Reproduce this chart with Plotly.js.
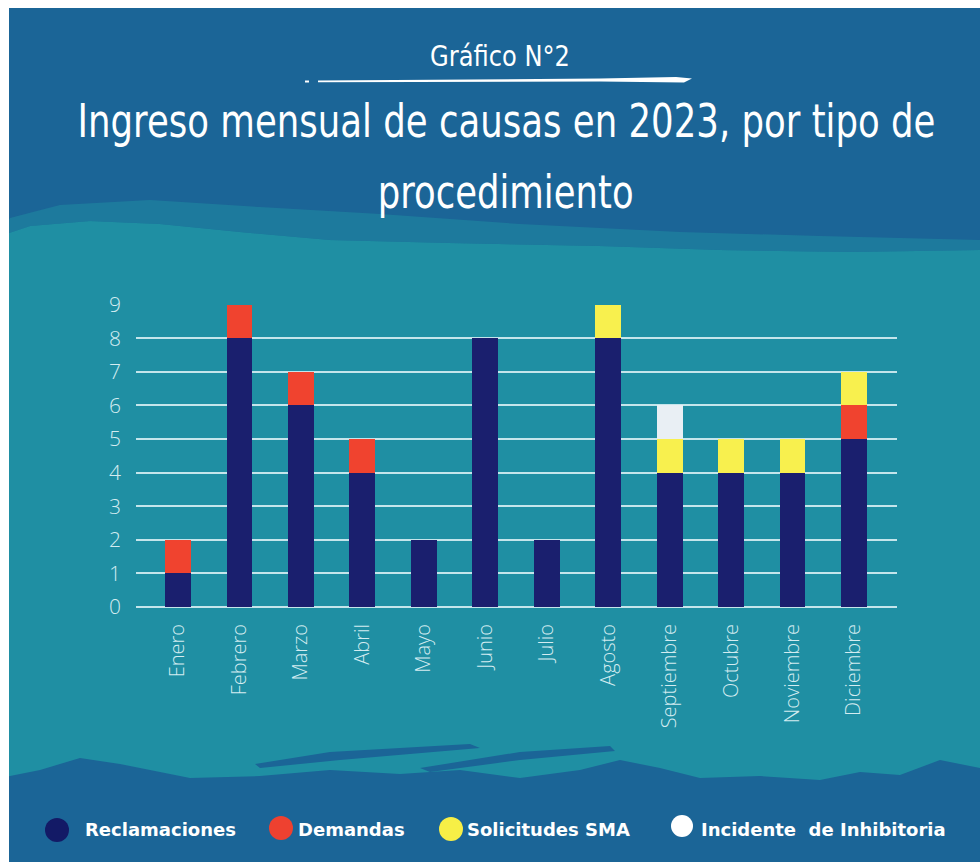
<!DOCTYPE html>
<html>
<head>
<meta charset="utf-8">
<script src="https://cdn.plot.ly/plotly-3.0.1.min.js"></script>
<style>
    html, body { margin: 0; padding: 0; background: #ffffff; }
    #chart { width: 980px; height: 862px; }
</style>
</head>
<body>
<div id="chart"></div>
<script>
// Ingreso mensual de causas 2023 - stacked bars by procedure type

const months = ['Enero', 'Febrero', 'Marzo', 'Abril', 'Mayo', 'Junio',
    'Julio', 'Agosto', 'Septiembre', 'Octubre', 'Noviembre', 'Diciembre'];
const reclamaciones = [1, 8, 6, 4, 2, 8, 2, 8, 4, 4, 4, 5];
const demandas = [1, 1, 1, 1, 0, 0, 0, 0, 0, 0, 0, 1];
const solicitudesSMA = [0, 0, 0, 0, 0, 0, 0, 1, 1, 1, 1, 1];
const incidente = [0, 0, 0, 0, 0, 0, 0, 0, 1, 0, 0, 0];
const seriesNames = ['Reclamaciones', 'Demandas', 'Solicitudes SMA', 'Incidente  de Inhibitoria'];

const COLORS = {
    navy: '#1a1f6e',
    red: '#f0432f',
    yellow: '#f8f04e',
    white: '#e9eff4',
    blue: '#1b6597',
    teal: '#1f8fa3',
    grid: 'rgba(214,238,243,0.9)',
    tick: '#d4ecf1'
};

// page geometry (pixels)
const W = 980, H = 862;
const M = { l: 136, r: 83, t: 304, b: 255 };
const plotW = W - M.l - M.r;
const plotH = H - M.t - M.b;
const px = x => (x - M.l) / plotW;
const py = y => (H - M.b - y) / plotH;

function pathFrom(points) {
    return 'M' + points.map(p => px(p[0]).toFixed(4) + ',' + py(p[1]).toFixed(4)).join(' L') + ' Z';
}

const barWidth = 0.42;
function barTrace(name, values, color) {
    return {
        x: months,
        y: values,
        name: name,
        type: 'bar',
        width: barWidth,
        marker: { color: color, line: { width: 0 } },
        showlegend: false,
        hoverinfo: 'skip'
    };
}

const data = [
    barTrace(seriesNames[0], reclamaciones, COLORS.navy),
    barTrace(seriesNames[1], demandas, COLORS.red),
    barTrace(seriesNames[2], solicitudesSMA, COLORS.yellow),
    barTrace(seriesNames[3], incidente, COLORS.white)
];

// background texture
const tealTop = [[0, 236], [30, 226], [90, 221], [160, 224], [240, 232], [330, 240], [450, 243],
    [600, 246], [720, 250], [850, 252], [980, 250]];
const tealBottom = [[980, 768], [940, 760], [900, 775], [860, 772], [820, 780], [760, 776],
    [700, 778], [660, 768], [620, 760], [580, 770], [520, 778], [460, 770], [400, 774],
    [330, 770], [260, 776], [190, 778], [120, 764], [80, 758], [40, 770], [0, 778]];
const mottled = [[10, 218], [60, 205], [150, 200], [260, 207], [380, 214], [520, 224],
    [680, 232], [820, 236], [980, 240]].concat(tealTop.slice().reverse());

const shapes = [
    { type: 'path', xref: 'paper', yref: 'paper', layer: 'below',
      path: pathFrom(tealTop.concat(tealBottom)), fillcolor: COLORS.teal, line: { width: 0 } },
    { type: 'path', xref: 'paper', yref: 'paper', layer: 'below', opacity: 0.5,
      path: pathFrom(mottled), fillcolor: COLORS.teal, line: { width: 0 } },
    // brush strokes at the bottom edge
    { type: 'path', xref: 'paper', yref: 'paper', layer: 'below',
      path: pathFrom([[255, 764], [330, 752], [470, 744], [480, 748], [340, 760], [260, 768]]),
      fillcolor: COLORS.blue, line: { width: 0 } },
    { type: 'path', xref: 'paper', yref: 'paper', layer: 'below',
      path: pathFrom([[420, 768], [520, 752], [610, 746], [615, 751], [520, 760], [430, 772]]),
      fillcolor: COLORS.blue, line: { width: 0 } },
    // white frame on top and left
    { type: 'rect', xref: 'paper', yref: 'paper', layer: 'above',
      x0: px(0), x1: px(980), y0: py(0), y1: py(8), fillcolor: '#ffffff', line: { width: 0 } },
    { type: 'rect', xref: 'paper', yref: 'paper', layer: 'above',
      x0: px(0), x1: px(9), y0: py(0), y1: py(862), fillcolor: '#ffffff', line: { width: 0 } },
    // brush underline below "Gráfico N°2"
    { type: 'path', xref: 'paper', yref: 'paper', layer: 'above',
      path: pathFrom([[318, 80.5], [600, 78.6], [676, 77], [692, 78.5], [684, 82.5], [600, 81.6], [318, 82.2]]),
      fillcolor: '#ffffff', line: { width: 0 } },
    { type: 'path', xref: 'paper', yref: 'paper', layer: 'above',
      path: pathFrom([[305, 80.5], [309, 80.5], [309, 82.5], [305, 82.5]]),
      fillcolor: '#ffffff', line: { width: 0 } }
];

// custom legend with round markers
const legendItems = [
    { cx: 57, cy: 830, r: 12, color: '#131a66', tx: 83 },
    { cx: 281, cy: 828, r: 12, color: '#ee4130', tx: 296 },
    { cx: 451, cy: 829, r: 12, color: '#f7ef46', tx: 465 },
    { cx: 682, cy: 826, r: 11, color: '#ffffff', tx: 699 }
];
legendItems.forEach(it => {
    shapes.push({ type: 'circle', xref: 'paper', yref: 'paper', layer: 'above',
        x0: px(it.cx - it.r), x1: px(it.cx + it.r), y0: py(it.cy + it.r), y1: py(it.cy - it.r),
        fillcolor: it.color, line: { width: 0 } });
});

// titles: drawn in DejaVu Sans, then squeezed to the condensed width of the original
const titleFont = "'DejaVu Sans', sans-serif";
const titles = [
    { text: 'Gráfico N°2', cx: 500, cy: 56, size: 29, width: 140 },
    { text: 'Ingreso mensual de causas en 2023, por tipo de', cx: 506, cy: 120, size: 47, width: 858 },
    { text: 'procedimiento', cx: 505, cy: 191, size: 47, width: 256 }
];
const annotations = titles.map(t => ({
    text: t.text, xref: 'paper', yref: 'paper', showarrow: false,
    x: px(t.cx), y: py(t.cy), xanchor: 'center', yanchor: 'middle',
    font: { family: titleFont, size: t.size, color: '#ffffff' }
}));

legendItems.forEach((it, i) => {
    annotations.push({
        text: '<b>' + seriesNames[i] + '</b>', xref: 'paper', yref: 'paper', showarrow: false,
        x: px(it.tx), y: py(829), xanchor: 'left', yanchor: 'middle',
        font: { family: "'DejaVu Sans', sans-serif", size: 18, color: '#ffffff' }
    });
});

const layout = {
    width: W,
    height: H,
    margin: M,
    barmode: 'stack',
    showlegend: false,
    paper_bgcolor: COLORS.blue,
    plot_bgcolor: 'rgba(0,0,0,0)',
    font: { family: "'Open Sans', sans-serif", color: COLORS.tick },
    xaxis: {
        type: 'category',
        range: [-0.683, 11.70],
        showgrid: false,
        showline: false,
        ticks: '',
        tickangle: -90,
        ticklabelstandoff: 12,
        tickfont: { size: 20, color: COLORS.tick, weight: 300 }
    },
    yaxis: {
        range: [0, 9.02],
        dtick: 1,
        showgrid: true,
        gridcolor: COLORS.grid,
        gridwidth: 2,
        zeroline: true,
        zerolinecolor: COLORS.grid,
        zerolinewidth: 2,
        showline: false,
        ticks: '',
        ticklabelstandoff: 14,
        tickfont: { size: 21, color: COLORS.tick, weight: 300 }
    },
    shapes: shapes,
    annotations: annotations
};

Plotly.newPlot('chart', data, layout, { displayModeBar: false, staticPlot: true }).then(() => {
    titles.forEach((t, i) => {
        const el = document.querySelector('.annotation[data-index="' + i + '"] text.annotation-text');
        if (!el) return;
        const w = el.getBBox().width;
        if (!w) return;
        el.style.transformBox = 'fill-box';
        el.style.transformOrigin = 'center';
        el.style.transform = 'scaleX(' + (t.width / w).toFixed(4) + ')';
    });
});
</script>
</body>
</html>
